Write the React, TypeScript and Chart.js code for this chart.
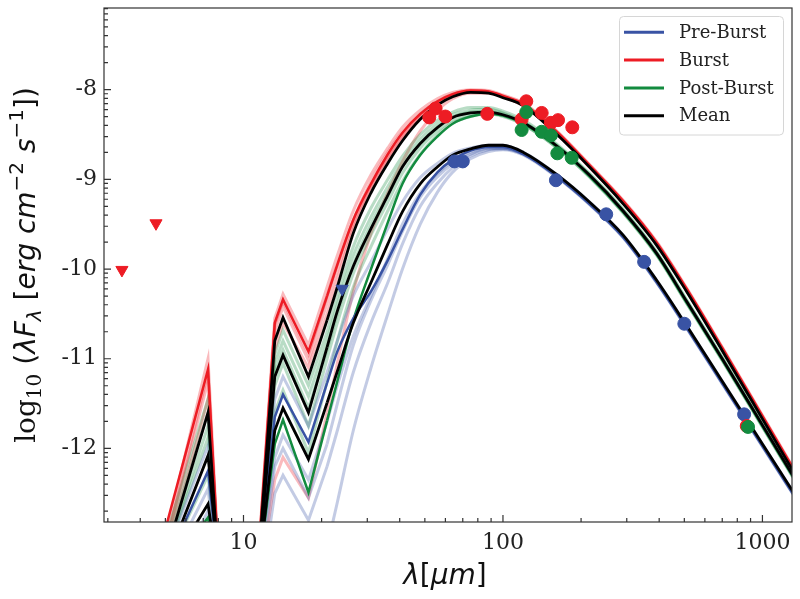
import { useEffect, useRef } from 'react'
import { Chart, registerables } from 'chart.js'
Chart.register(...registerables)

// wavelength grid (micron) shared by every model curve
const WAVE = [5.0, 7.3, 8.0, 11.6, 13.2, 14.2, 17.8, 21, 23, 26.5, 31, 36, 41, 48, 56, 64, 75, 88, 100, 120, 160, 215, 290, 390, 510, 700, 1000, 1400]
// index where the smooth far-IR part starts
const SMOOTH_FROM = 7

// mean SEDs (black)
const MEAN_BURST = [-13.2, -11.6, -13.3, -13.0, -10.8, -10.54, -11.2, -10.57, -10.2, -9.6, -9.15, -8.82, -8.57, -8.33, -8.17, -8.08, -8.03, -8.04, -8.09, -8.18, -8.49, -8.86, -9.27, -9.73, -10.25, -10.91, -11.67, -12.39]
const MEAN_POST = [-13.3, -12.08, -13.3, -13.1, -11.2, -10.96, -11.6, -10.87, -10.47, -9.97, -9.55, -9.18, -8.86, -8.6, -8.42, -8.31, -8.26, -8.25, -8.28, -8.37, -8.62, -8.95, -9.35, -9.82, -10.36, -11.0, -11.74, -12.44]
const MEAN_PRE = [-13.4, -12.62, -13.4, -13.2, -11.8, -11.55, -12.12, -11.49, -11.14, -10.6, -10.15, -9.72, -9.36, -9.05, -8.86, -8.73, -8.66, -8.62, -8.62, -8.7, -8.94, -9.25, -9.62, -10.12, -10.63, -11.25, -11.95, -12.61]

// best-fit SEDs (bold colour)
const FIT_BURST = [-12.9, -11.12, -13.2, -12.9, -10.6, -10.34, -10.92, -10.3, -9.95, -9.45, -9.05, -8.72, -8.48, -8.27, -8.13, -8.05, -8.01, -8.02, -8.07, -8.16, -8.46, -8.84, -9.24, -9.7, -10.22, -10.88, -11.64, -12.36]
const FIT_POST = [-13.4, -12.77, -13.4, -13.2, -11.95, -11.68, -12.49, -11.69, -11.25, -10.57, -10.0, -9.48, -9.05, -8.73, -8.52, -8.38, -8.3, -8.27, -8.29, -8.38, -8.63, -8.96, -9.36, -9.83, -10.37, -11.01, -11.75, -12.45]
const FIT_PRE = [-13.3, -12.25, -13.3, -13.1, -11.65, -11.4, -11.93, -11.27, -10.92, -10.55, -10.25, -9.9, -9.56, -9.17, -8.92, -8.78, -8.68, -8.64, -8.64, -8.72, -8.96, -9.27, -9.64, -10.14, -10.65, -11.27, -11.97, -12.63]

// faint model samples
const RUNS_BURST = [
  [-13.0, -11.0, -13.2, -12.9, -10.55, -10.28, -10.85, -10.2, -9.85, -9.35, -8.95, -8.65, -8.42, -8.23, -8.1, -8.03, -8.0, -8.01, -8.06, -8.15, -8.45, -8.83, -9.23, -9.69, -10.21, -10.87, -11.63, -12.35],
  [-13.1, -11.15, -13.3, -13.0, -10.62, -10.36, -10.95, -10.3, -9.95, -9.45, -9.02, -8.7, -8.47, -8.27, -8.13, -8.05, -8.01, -8.02, -8.07, -8.16, -8.46, -8.84, -9.24, -9.7, -10.22, -10.88, -11.64, -12.36],
  [-13.1, -11.25, -13.3, -13.0, -10.7, -10.42, -11.02, -10.38, -10.02, -9.5, -9.08, -8.76, -8.52, -8.3, -8.15, -8.07, -8.03, -8.03, -8.08, -8.17, -8.47, -8.85, -9.25, -9.71, -10.23, -10.89, -11.65, -12.37],
  [-13.2, -11.45, -13.3, -13.0, -10.9, -10.6, -11.1, -10.5, -10.12, -9.55, -9.1, -8.78, -8.53, -8.3, -8.15, -8.06, -8.02, -8.03, -8.08, -8.18, -8.48, -8.86, -9.26, -9.72, -10.24, -10.9, -11.66, -12.38],
  [-13.6, -12.95, -13.6, -13.4, -12.35, -12.1, -12.55, -11.6, -11.05, -10.25, -9.6, -9.15, -8.8, -8.46, -8.23, -8.1, -8.04, -8.04, -8.08, -8.18, -8.48, -8.86, -9.26, -9.72, -10.24, -10.9, -11.66, -12.38],
]
const RUNS_POST = [
  [-13.0, -11.45, -13.2, -12.95, -10.95, -10.68, -11.3, -10.7, -10.3, -9.75, -9.32, -9.0, -8.74, -8.5, -8.34, -8.25, -8.2, -8.2, -8.24, -8.34, -8.6, -8.93, -9.33, -9.8, -10.34, -10.98, -11.72, -12.42],
  [-13.1, -11.6, -13.3, -13.0, -11.05, -10.8, -11.42, -10.8, -10.4, -9.85, -9.42, -9.08, -8.8, -8.55, -8.38, -8.28, -8.23, -8.22, -8.26, -8.36, -8.61, -8.94, -9.34, -9.81, -10.35, -10.99, -11.73, -12.43],
  [-13.2, -11.75, -13.3, -13.0, -11.15, -10.9, -11.55, -10.9, -10.5, -9.95, -9.5, -9.15, -8.86, -8.6, -8.42, -8.31, -8.25, -8.24, -8.27, -8.37, -8.62, -8.95, -9.35, -9.82, -10.36, -11.0, -11.74, -12.44],
  [-13.2, -11.88, -13.3, -13.05, -11.3, -11.05, -11.75, -11.0, -10.6, -10.05, -9.62, -9.25, -8.93, -8.65, -8.46, -8.34, -8.28, -8.26, -8.29, -8.39, -8.64, -8.97, -9.37, -9.84, -10.38, -11.02, -11.76, -12.46],
  [-13.3, -12.3, -13.4, -13.2, -11.6, -11.35, -12.05, -11.25, -10.8, -10.2, -9.75, -9.35, -9.02, -8.72, -8.5, -8.37, -8.3, -8.27, -8.3, -8.39, -8.64, -8.97, -9.37, -9.84, -10.38, -11.02, -11.76, -12.46],
]
const RUNS_PRE = [
  [-13.2, -11.97, -13.3, -13.0, -11.45, -11.2, -11.75, -11.15, -10.8, -10.3, -9.92, -9.55, -9.25, -8.98, -8.82, -8.71, -8.65, -8.62, -8.62, -8.7, -8.94, -9.25, -9.62, -10.12, -10.63, -11.25, -11.95, -12.61],
  [-13.4, -12.45, -13.4, -13.2, -12.1, -11.85, -12.35, -11.7, -11.3, -10.75, -10.3, -9.88, -9.5, -9.15, -8.93, -8.8, -8.7, -8.65, -8.65, -8.72, -8.96, -9.27, -9.64, -10.14, -10.65, -11.27, -11.97, -12.63],
  [-13.6, -12.7, -13.6, -13.4, -12.2, -12.0, -12.55, -11.95, -11.5, -10.85, -10.35, -9.95, -9.58, -9.2, -8.97, -8.83, -8.72, -8.66, -8.66, -8.72, -8.96, -9.27, -9.64, -10.14, -10.65, -11.27, -11.97, -12.63],
  [-13.8, -13.0, -13.8, -13.6, -12.5, -12.3, -12.8, -12.2, -11.8, -11.15, -10.6, -10.15, -9.72, -9.3, -9.04, -8.87, -8.74, -8.67, -8.66, -8.72, -8.96, -9.27, -9.64, -10.14, -10.65, -11.27, -11.97, -12.63],
  [-14.0, -13.6, -14.0, -13.9, -13.1, -12.9, -13.3, -13.1, -12.6, -11.8, -11.1, -10.5, -10.0, -9.5, -9.14, -8.92, -8.77, -8.69, -8.67, -8.73, -8.97, -9.28, -9.65, -10.15, -10.66, -11.28, -11.98, -12.64],
]

// photometry
const PRE_WAVE = [65, 70, 160, 250, 350, 500, 850]
const PRE_FLUX = [-8.8, -8.8, -9.01, -9.39, -9.92, -10.61, -11.62]
const PRE_LIM_WAVE = [24]
const PRE_LIM_FLUX = [-10.22]
const BURST_WAVE = [52, 55, 60, 87, 118, 123, 141, 153, 163, 185, 870]
const BURST_FLUX = [-8.31, -8.21, -8.3, -8.27, -8.33, -8.13, -8.26, -8.37, -8.34, -8.42, -11.75]
const BURST_LIM_WAVE = [3.4, 4.6]
const BURST_LIM_FLUX = [-10.01, -9.49]
const POST_WAVE = [118, 123, 141, 153, 162, 184, 880]
const POST_FLUX = [-8.45, -8.25, -8.47, -8.51, -8.71, -8.76, -11.76]

// axes
const X_MAJOR = [10, 100, 1000]
const X_MINOR = [3, 4, 5, 6, 7, 8, 9, 20, 30, 40, 50, 60, 70, 80, 90, 200, 300, 400, 500, 600, 700, 800, 900]
const Y_MAJOR = [-12, -11, -10, -9, -8]
const Y_MINOR_K = [2, 3, 4, 5, 6, 7, 8, 9]
const LEGEND = ['Pre-Burst', 'Burst', 'Post-Burst', 'Mean']

const BLUE = '#3953a4'
const RED = '#ed1c24'
const GREEN = '#138b3f'
const BLACK = '#000000'
const FAINT_BLUE = 'rgba(57,83,164,0.3)'
const FAINT_RED = 'rgba(237,28,36,0.3)'
const FAINT_GREEN = 'rgba(19,139,63,0.3)'

const SERIF = 'DejaVu Serif'
const SANS = 'DejaVu Sans'

// one curve = sharp mid-IR part (straight segments) + smooth far-IR part
const line = (vals: number[], color: string, width: number, order: number) => {
  const pts = WAVE.map((x, i) => ({ x, y: vals[i] }))
  const base = {
    type: 'line' as const,
    borderColor: color,
    backgroundColor: color,
    borderWidth: width,
    pointRadius: 0,
    fill: false,
    clip: 0,
    order,
  }
  return [
    { ...base, data: pts.slice(0, SMOOTH_FROM + 1), tension: 0 },
    { ...base, data: pts.slice(SMOOTH_FROM), cubicInterpolationMode: 'monotone' as const },
  ]
}

const points = (xs: number[], ys: number[], color: string, tri: boolean, order: number) => ({
  type: 'scatter' as const,
  data: xs.map((x, i) => ({ x, y: ys[i] })),
  backgroundColor: color,
  borderColor: color,
  borderWidth: 1,
  pointRadius: tri ? 7 : 6.5,
  pointStyle: tri ? 'triangle' : 'circle',
  rotation: tri ? 180 : 0,
  clip: false,
  order,
})

type Run = { t: string; f: string; dy?: number }

function drawRuns(ctx: CanvasRenderingContext2D, runs: Run[], cx: number, base: number) {
  let total = 0
  const widths = runs.map(r => {
    ctx.font = r.f
    const w = ctx.measureText(r.t).width
    total += w
    return w
  })
  let x = cx - total / 2
  runs.forEach((r, i) => {
    ctx.font = r.f
    ctx.fillText(r.t, x, base + (r.dy || 0))
    x += widths[i]
  })
}

const decor = {
  id: 'decor',
  afterDatasetsDraw(chart: any) {
    const { ctx, chartArea: a, scales } = chart
    const xs = scales.x
    const ys = scales.y
    ctx.save()
    ctx.strokeStyle = '#333'
    ctx.lineWidth = 1.2
    ctx.beginPath()
    X_MAJOR.forEach(v => {
      const p = xs.getPixelForValue(v)
      ctx.moveTo(p, a.bottom); ctx.lineTo(p, a.bottom - 7)
    })
    X_MINOR.forEach(v => {
      const p = xs.getPixelForValue(v)
      if (p < a.left || p > a.right) return
      ctx.moveTo(p, a.bottom); ctx.lineTo(p, a.bottom - 4)
    })
    Y_MAJOR.forEach(v => {
      const p = ys.getPixelForValue(v)
      ctx.moveTo(a.left, p); ctx.lineTo(a.left + 7, p)
    })
    for (let n = -13; n <= -8; n++) {
      Y_MINOR_K.forEach(k => {
        const p = ys.getPixelForValue(n + Math.log10(k))
        if (p < a.top || p > a.bottom) return
        ctx.moveTo(a.left, p); ctx.lineTo(a.left + 4, p)
      })
    }
    ctx.stroke()
    ctx.strokeRect(a.left, a.top, a.right - a.left, a.bottom - a.top)
    ctx.restore()
  },
  afterDraw(chart: any) {
    const { ctx } = chart
    ctx.save()
    // legend
    ctx.beginPath()
    ctx.roundRect(619.5, 16.5, 164, 118.5, 4)
    ctx.fillStyle = 'rgba(255,255,255,0.85)'
    ctx.fill()
    ctx.strokeStyle = '#d6d6d6'
    ctx.lineWidth = 1
    ctx.stroke()
    const cols = [BLUE, RED, GREEN, BLACK]
    LEGEND.forEach((name, i) => {
      const y = 32.3 + i * 27.8
      ctx.strokeStyle = cols[i]
      ctx.lineWidth = 3
      ctx.beginPath()
      ctx.moveTo(624, y); ctx.lineTo(664, y)
      ctx.stroke()
      ctx.fillStyle = '#222'
      ctx.font = `18px ${SERIF}`
      ctx.textBaseline = 'middle'
      ctx.textAlign = 'left'
      ctx.fillText(name, 679, y + 1)
    })
    // axis titles
    ctx.fillStyle = '#111'
    ctx.textBaseline = 'alphabetic'
    ctx.textAlign = 'left'
    drawRuns(ctx, [
      { t: 'λ', f: `italic 28px ${SANS}` },
      { t: '[', f: `28px ${SANS}` },
      { t: 'μm', f: `italic 28px ${SANS}` },
      { t: ']', f: `28px ${SANS}` },
    ], 445, 584)
    ctx.translate(35, 265)
    ctx.rotate(-Math.PI / 2)
    drawRuns(ctx, [
      { t: 'log', f: `28px ${SERIF}` },
      { t: '10', f: `20px ${SERIF}`, dy: 6 },
      { t: ' (', f: `28px ${SANS}` },
      { t: 'λF', f: `italic 28px ${SANS}` },
      { t: 'λ', f: `italic 20px ${SANS}`, dy: 6 },
      { t: ' [', f: `28px ${SANS}` },
      { t: 'erg', f: `italic 28px ${SANS}` },
      { t: ' cm', f: `italic 28px ${SANS}` },
      { t: '−2', f: `20px ${SANS}`, dy: -12 },
      { t: ' s', f: `italic 28px ${SANS}` },
      { t: '−1', f: `20px ${SANS}`, dy: -12 },
      { t: '])', f: `28px ${SANS}` },
    ], 0, 0)
    ctx.restore()
  },
}

export default function App() {
  const ref = useRef<HTMLCanvasElement>(null)
  useEffect(() => {
    if (!ref.current) return
    const datasets: any[] = [
      ...RUNS_PRE.flatMap(r => line(r, FAINT_BLUE, 3, 5)),
      ...RUNS_POST.flatMap(r => line(r, FAINT_GREEN, 3, 5)),
      ...RUNS_BURST.flatMap(r => line(r, FAINT_RED, 3, 5)),
      ...line(FIT_PRE, BLUE, 2.5, 3),
      ...line(FIT_POST, GREEN, 2.5, 3),
      ...line(FIT_BURST, RED, 2.5, 3),
      ...line(MEAN_PRE, BLACK, 2.8, 2),
      ...line(MEAN_POST, BLACK, 2.8, 2),
      ...line(MEAN_BURST, BLACK, 2.8, 2),
      points(PRE_WAVE, PRE_FLUX, BLUE, false, -1),
      points(PRE_LIM_WAVE, PRE_LIM_FLUX, BLUE, true, -4),
      points(BURST_WAVE, BURST_FLUX, RED, false, -2),
      points(BURST_LIM_WAVE, BURST_LIM_FLUX, RED, true, -2),
      points(POST_WAVE, POST_FLUX, GREEN, false, -3),
    ]
    const chart = new Chart(ref.current, {
      type: 'line',
      data: { datasets },
      options: {
        responsive: false,
        animation: false,
        events: [],
        layout: { padding: { top: 7, right: 7, left: 0, bottom: 0 } },
        plugins: { legend: { display: false }, tooltip: { enabled: false } },
        scales: {
          x: {
            type: 'logarithmic',
            min: 2.9,
            max: 1300,
            grid: { display: false, drawTicks: false },
            border: { display: false },
            ticks: {
              autoSkip: false,
              maxRotation: 0,
              padding: 8,
              color: '#222',
              font: { family: SERIF, size: 22 },
              callback: (v: any) => String(v),
            },
            afterBuildTicks: (s: any) => { s.ticks = X_MAJOR.map(v => ({ value: v })) },
            afterFit: (s: any) => { s.height = 77; s.paddingLeft = 0; s.paddingRight = 0 },
          },
          y: {
            type: 'linear',
            min: -12.82,
            max: -7.09,
            grid: { display: false, drawTicks: false },
            border: { display: false },
            ticks: {
              padding: 7,
              color: '#222',
              font: { family: SERIF, size: 22 },
              callback: (v: any) => String(v),
            },
            afterBuildTicks: (s: any) => { s.ticks = Y_MAJOR.map(v => ({ value: v })) },
            afterFit: (s: any) => { s.width = 104; s.paddingTop = 0; s.paddingBottom = 0 },
          },
        },
      },
      plugins: [decor],
    })
    return () => chart.destroy()
  }, [])
  return (
    <div style={{ position: 'fixed', left: 0, top: 0, width: 800, height: 599, background: '#fff' }}>
      <canvas ref={ref} width={800} height={599} style={{ width: 800, height: 599 }} />
    </div>
  )
}
